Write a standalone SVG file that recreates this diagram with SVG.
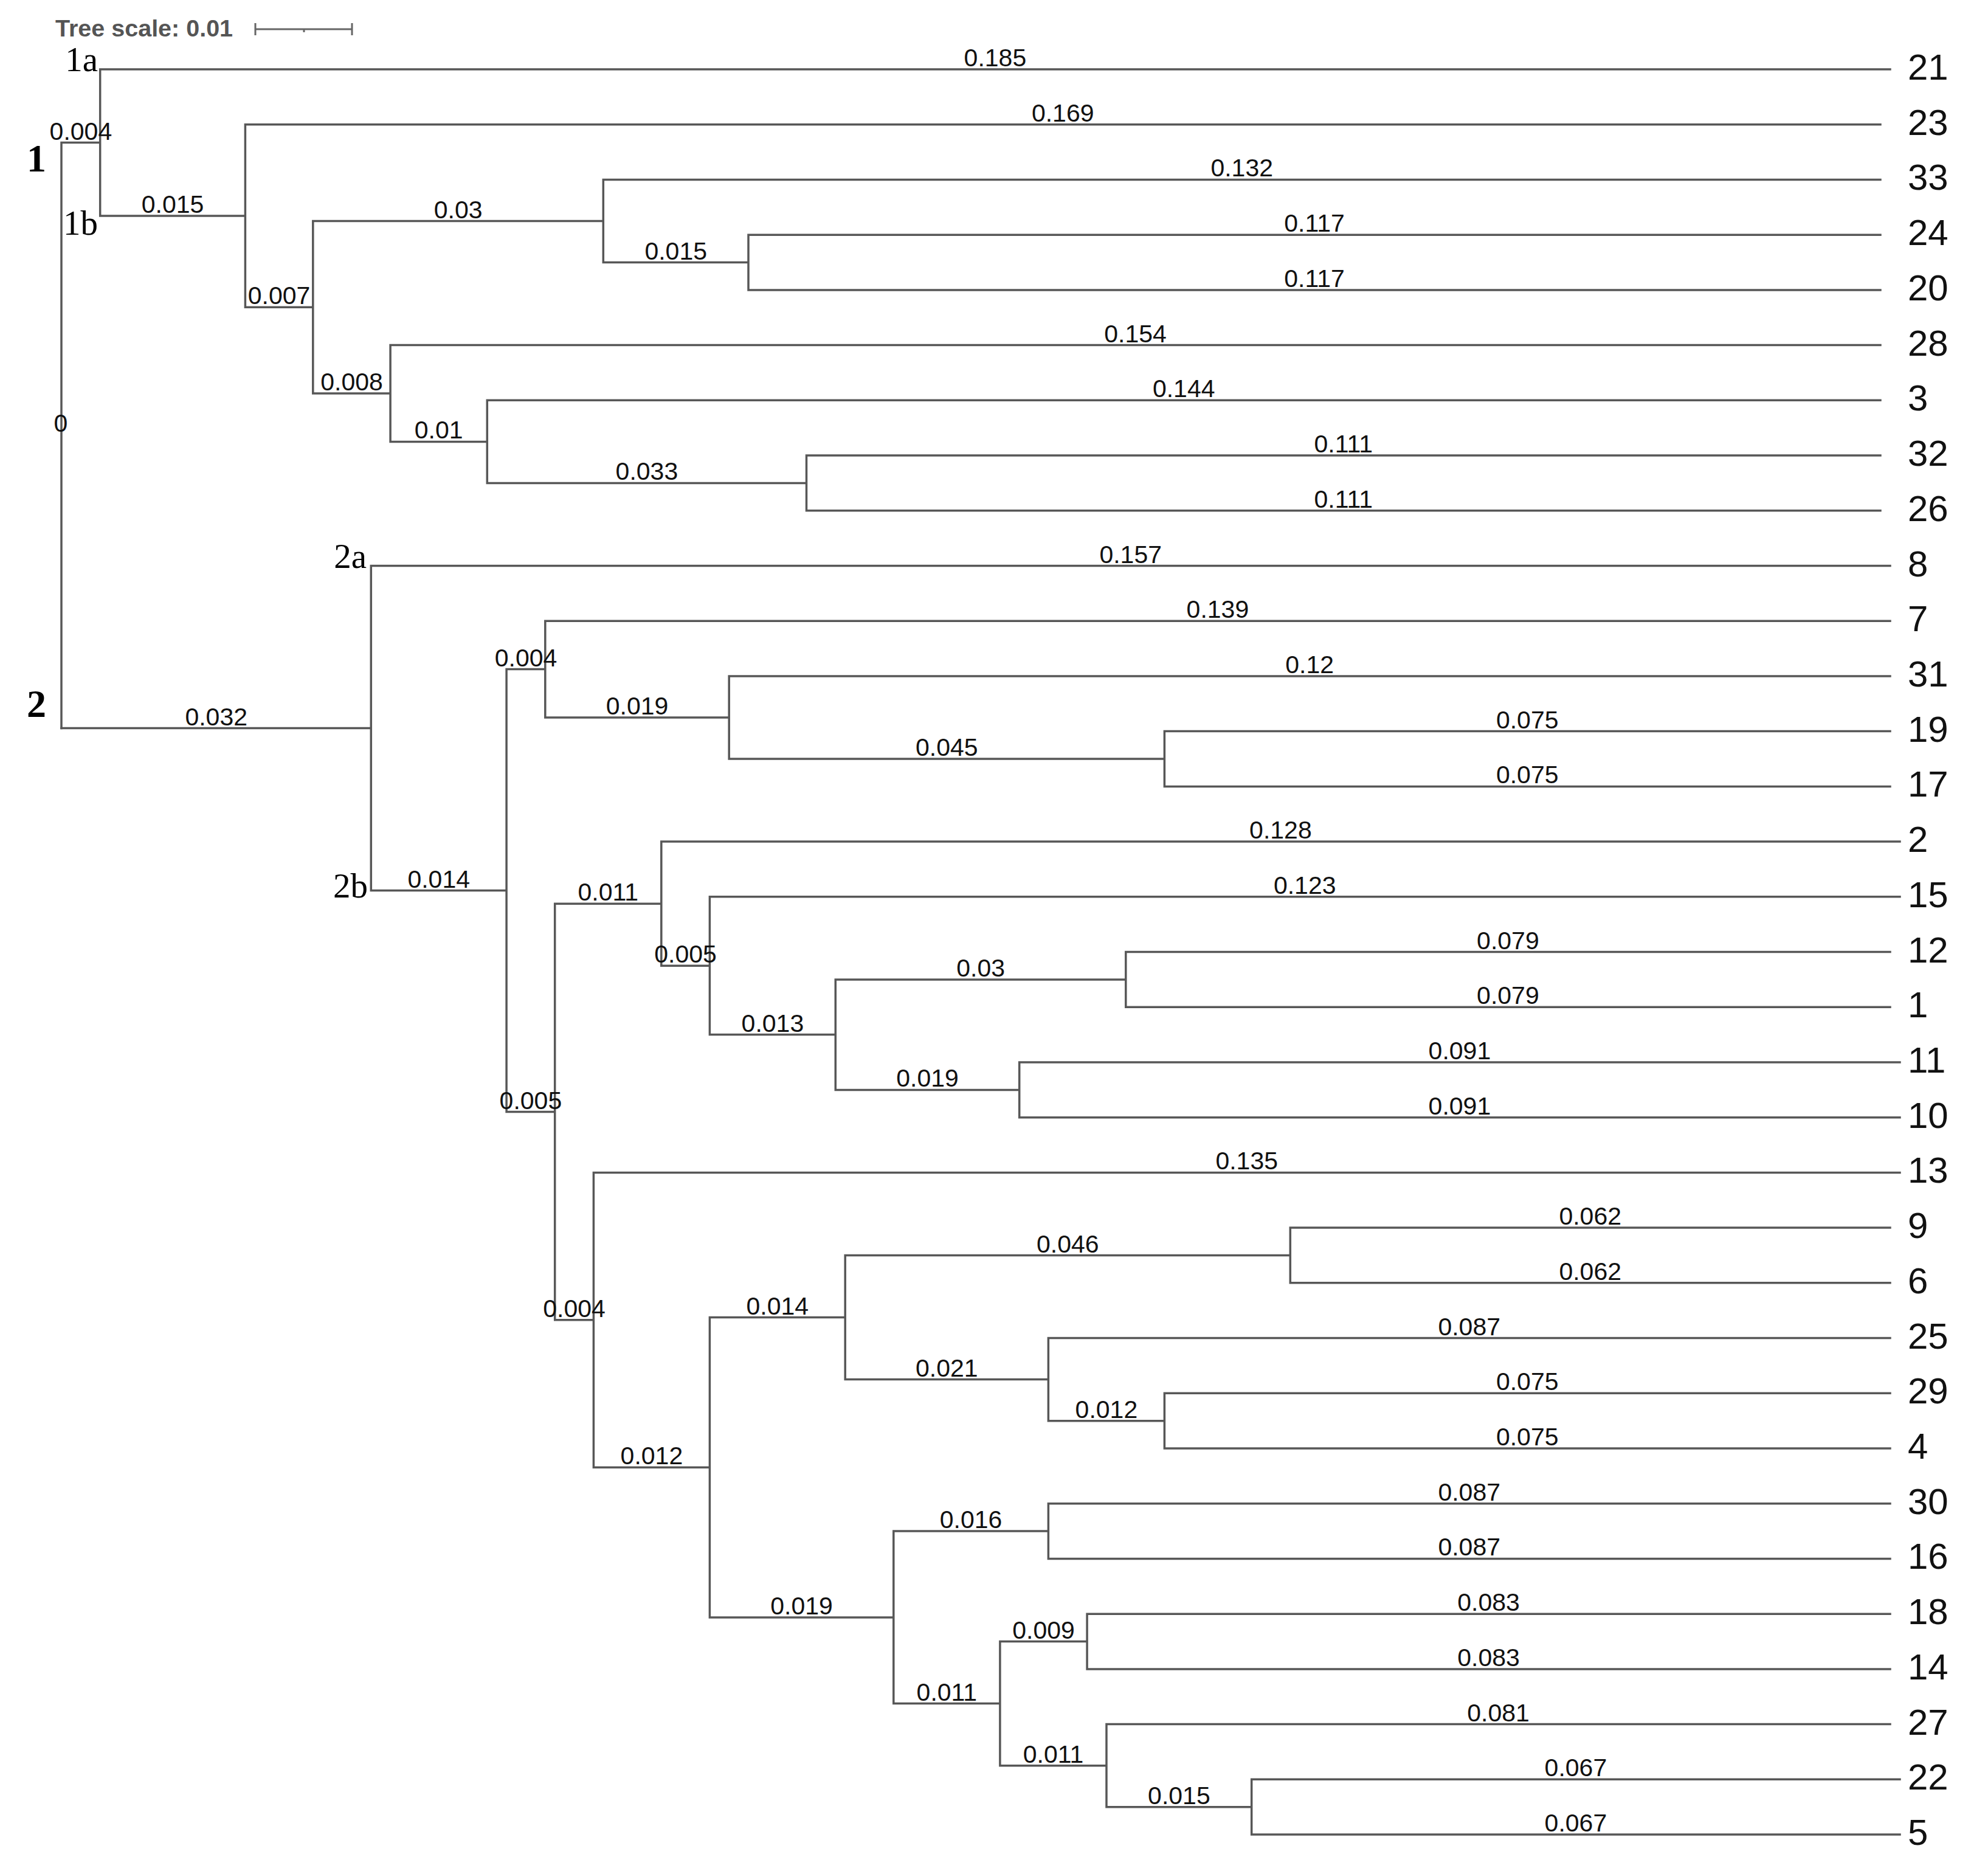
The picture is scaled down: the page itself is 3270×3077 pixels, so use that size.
<svg xmlns="http://www.w3.org/2000/svg" width="3270" height="3077" viewBox="0 0 3270 3077">
<style>
.br{fill:none;stroke:#575757;stroke-width:3.5;stroke-linecap:square}
.bl{font-family:"Liberation Sans",Arial,sans-serif;font-size:41px;fill:#111;text-anchor:middle}
.tip{font-family:"Liberation Sans",Arial,sans-serif;font-size:60px;fill:#111}
.cl{font-family:"Liberation Serif","Times New Roman",serif;font-size:57px;fill:#000;text-anchor:end}
.big{font-family:"Liberation Serif","Times New Roman",serif;font-size:64px;font-weight:bold;fill:#000}
.sc{font-family:"Liberation Sans",Arial,sans-serif;font-size:39.5px;font-weight:bold;fill:#555}
.sb{fill:none;stroke:#666;stroke-width:3}
</style>
<rect width="3270" height="3077" fill="#fff"/>
<g id="tree-scale">
<text class="sc" x="91" y="60">Tree scale: 0.01</text>
<path class="sb" d="M420 48H579M420 38V58M579 38V58M500 48V53"/>
</g>
<g id="connectors">
<path class="br" d="M101 234.5V1197.5
M101 234.5H164.7M164.7 114V355M164.7 114H3109M164.7 355H403.4
M403.4 204.7V505.2M403.4 204.7H3093M403.4 505.2H514.8
M514.8 363.5V647M514.8 363.5H992.3M992.3 295.4V431.6M992.3 295.4H3093M992.3 431.6H1231
M1231 386.2V476.9M1231 386.2H3093M1231 476.9H3093
M514.8 647H642.1M642.1 567.6V726.4M642.1 567.6H3093M642.1 726.4H801.3
M801.3 658.3V794.4M801.3 658.3H3093M801.3 794.4H1326.5
M1326.5 749V839.8M1326.5 749H3093M1326.5 839.8H3093"/>
<path class="br" d="M101 1197.5H610.3M610.3 930.5V1464.6M610.3 930.5H3109M610.3 1464.6H833.1
M833.1 1100.6V1828.5M833.1 1100.6H896.8M896.8 1021.2V1180M896.8 1021.2H3109M896.8 1180H1199.2
M1199.2 1111.9V1248M1199.2 1111.9H3109M1199.2 1248H1915.4M1915.4 1202.6V1293.4M1915.4 1202.6H3109M1915.4 1293.4H3109
M833.1 1828.5H912.7M912.7 1486.2V2170.8M912.7 1486.2H1087.8
M1087.8 1384.1V1588.2M1087.8 1384.1H3125M1087.8 1588.2H1167.4
M1167.4 1474.8V1701.6M1167.4 1474.8H3125M1167.4 1701.6H1374.3
M1374.3 1610.9V1792.4M1374.3 1610.9H1851.8M1851.8 1565.5V1656.2M1851.8 1565.5H3109M1851.8 1656.2H3109
M1374.3 1792.4H1676.7M1676.7 1747V1837.7M1676.7 1747H3125M1676.7 1837.7H3125
M912.7 2170.8H976.4M976.4 1928.4V2413.2M976.4 1928.4H3125M976.4 2413.2H1167.4
M1167.4 2166.6V2659.9M1167.4 2166.6H1390.2M1390.2 2064.5V2268.6M1390.2 2064.5H2122.3
M2122.3 2019.1V2109.8M2122.3 2019.1H3109M2122.3 2109.8H3109
M1390.2 2268.6H1724.4M1724.4 2200.6V2336.7M1724.4 2200.6H3109M1724.4 2336.7H1915.4
M1915.4 2291.3V2382M1915.4 2291.3H3109M1915.4 2382H3109
M1167.4 2659.9H1469.8M1469.8 2518.1V2801.6M1469.8 2518.1H1724.4M1724.4 2472.7V2563.4M1724.4 2472.7H3109M1724.4 2563.4H3109
M1469.8 2801.6H1644.9M1644.9 2699.5V2903.7M1644.9 2699.5H1788.1M1788.1 2654.2V2744.9M1788.1 2654.2H3109M1788.1 2744.9H3109
M1644.9 2903.7H1820M1820 2835.6V2971.7M1820 2835.6H3109M1820 2971.7H2058.7
M2058.7 2926.3V3017M2058.7 2926.3H3125M2058.7 3017H3125"/>
</g>
<g id="branch-lengths">
<text class="bl" x="100" y="710">0</text>
<text class="bl" x="132.9" y="229.5">0.004</text>
<text class="bl" x="1636.9" y="109">0.185</text>
<text class="bl" x="284.1" y="350">0.015</text>
<text class="bl" x="1748.2" y="199.7">0.169</text>
<text class="bl" x="459.1" y="500.2">0.007</text>
<text class="bl" x="753.6" y="358.5">0.03</text>
<text class="bl" x="2042.7" y="290.4">0.132</text>
<text class="bl" x="1111.7" y="426.6">0.015</text>
<text class="bl" x="2162" y="381.2">0.117</text>
<text class="bl" x="2162" y="471.9">0.117</text>
<text class="bl" x="578.5" y="642">0.008</text>
<text class="bl" x="1867.6" y="562.6">0.154</text>
<text class="bl" x="721.7" y="721.4">0.01</text>
<text class="bl" x="1947.2" y="653.3">0.144</text>
<text class="bl" x="1063.9" y="789.4">0.033</text>
<text class="bl" x="2209.8" y="744">0.111</text>
<text class="bl" x="2209.8" y="834.8">0.111</text>
<text class="bl" x="355.7" y="1192.5">0.032</text>
<text class="bl" x="1859.7" y="925.5">0.157</text>
<text class="bl" x="721.7" y="1459.6">0.014</text>
<text class="bl" x="865" y="1095.6">0.004</text>
<text class="bl" x="2002.9" y="1016.2">0.139</text>
<text class="bl" x="1048" y="1175">0.019</text>
<text class="bl" x="2154.1" y="1106.9">0.12</text>
<text class="bl" x="1557.3" y="1243">0.045</text>
<text class="bl" x="2512.2" y="1197.6">0.075</text>
<text class="bl" x="2512.2" y="1288.4">0.075</text>
<text class="bl" x="872.9" y="1823.5">0.005</text>
<text class="bl" x="1000.3" y="1481.2">0.011</text>
<text class="bl" x="2106.4" y="1379.1">0.128</text>
<text class="bl" x="1127.6" y="1583.2">0.005</text>
<text class="bl" x="2146.2" y="1469.8">0.123</text>
<text class="bl" x="1270.9" y="1696.6">0.013</text>
<text class="bl" x="1613.1" y="1605.9">0.03</text>
<text class="bl" x="2480.4" y="1560.5">0.079</text>
<text class="bl" x="2480.4" y="1651.2">0.079</text>
<text class="bl" x="1525.5" y="1787.4">0.019</text>
<text class="bl" x="2400.9" y="1742">0.091</text>
<text class="bl" x="2400.9" y="1832.7">0.091</text>
<text class="bl" x="944.6" y="2165.8">0.004</text>
<text class="bl" x="2050.7" y="1923.4">0.135</text>
<text class="bl" x="1071.9" y="2408.2">0.012</text>
<text class="bl" x="1278.8" y="2161.6">0.014</text>
<text class="bl" x="1756.3" y="2059.5">0.046</text>
<text class="bl" x="2615.7" y="2014.1">0.062</text>
<text class="bl" x="2615.7" y="2104.8">0.062</text>
<text class="bl" x="1557.3" y="2263.6">0.021</text>
<text class="bl" x="2416.7" y="2195.6">0.087</text>
<text class="bl" x="1819.9" y="2331.7">0.012</text>
<text class="bl" x="2512.2" y="2286.3">0.075</text>
<text class="bl" x="2512.2" y="2377">0.075</text>
<text class="bl" x="1318.6" y="2654.9">0.019</text>
<text class="bl" x="1597.1" y="2513.1">0.016</text>
<text class="bl" x="2416.7" y="2467.7">0.087</text>
<text class="bl" x="2416.7" y="2558.4">0.087</text>
<text class="bl" x="1557.4" y="2796.6">0.011</text>
<text class="bl" x="1716.5" y="2694.5">0.009</text>
<text class="bl" x="2448.6" y="2649.2">0.083</text>
<text class="bl" x="2448.6" y="2739.9">0.083</text>
<text class="bl" x="1732.5" y="2898.7">0.011</text>
<text class="bl" x="2464.5" y="2830.6">0.081</text>
<text class="bl" x="1939.4" y="2966.7">0.015</text>
<text class="bl" x="2591.9" y="2921.3">0.067</text>
<text class="bl" x="2591.9" y="3012">0.067</text>
</g>
<g id="clade-1"><text class="big" x="44" y="282">1</text></g>
<g id="clade-1a"><text class="cl" x="161" y="117">1a</text></g>
<g id="clade-1b"><text class="cl" x="161" y="386">1b</text></g>
<g id="clade-2"><text class="big" x="44" y="1179">2</text></g>
<g id="clade-2a"><text class="cl" x="603" y="934">2a</text></g>
<g id="clade-2b"><text class="cl" x="605" y="1476">2b</text></g>
<g id="tip-21"><text class="tip" x="3138" y="131">21</text></g>
<g id="tip-23"><text class="tip" x="3138" y="221.7">23</text></g>
<g id="tip-33"><text class="tip" x="3138" y="312.4">33</text></g>
<g id="tip-24"><text class="tip" x="3138" y="403.2">24</text></g>
<g id="tip-20"><text class="tip" x="3138" y="493.9">20</text></g>
<g id="tip-28"><text class="tip" x="3138" y="584.6">28</text></g>
<g id="tip-3"><text class="tip" x="3138" y="675.3">3</text></g>
<g id="tip-32"><text class="tip" x="3138" y="766">32</text></g>
<g id="tip-26"><text class="tip" x="3138" y="856.8">26</text></g>
<g id="tip-8"><text class="tip" x="3138" y="947.5">8</text></g>
<g id="tip-7"><text class="tip" x="3138" y="1038.2">7</text></g>
<g id="tip-31"><text class="tip" x="3138" y="1128.9">31</text></g>
<g id="tip-19"><text class="tip" x="3138" y="1219.6">19</text></g>
<g id="tip-17"><text class="tip" x="3138" y="1310.4">17</text></g>
<g id="tip-2"><text class="tip" x="3138" y="1401.1">2</text></g>
<g id="tip-15"><text class="tip" x="3138" y="1491.8">15</text></g>
<g id="tip-12"><text class="tip" x="3138" y="1582.5">12</text></g>
<g id="tip-1"><text class="tip" x="3138" y="1673.2">1</text></g>
<g id="tip-11"><text class="tip" x="3138" y="1764">11</text></g>
<g id="tip-10"><text class="tip" x="3138" y="1854.7">10</text></g>
<g id="tip-13"><text class="tip" x="3138" y="1945.4">13</text></g>
<g id="tip-9"><text class="tip" x="3138" y="2036.1">9</text></g>
<g id="tip-6"><text class="tip" x="3138" y="2126.8">6</text></g>
<g id="tip-25"><text class="tip" x="3138" y="2217.6">25</text></g>
<g id="tip-29"><text class="tip" x="3138" y="2308.3">29</text></g>
<g id="tip-4"><text class="tip" x="3138" y="2399">4</text></g>
<g id="tip-30"><text class="tip" x="3138" y="2489.7">30</text></g>
<g id="tip-16"><text class="tip" x="3138" y="2580.4">16</text></g>
<g id="tip-18"><text class="tip" x="3138" y="2671.2">18</text></g>
<g id="tip-14"><text class="tip" x="3138" y="2761.9">14</text></g>
<g id="tip-27"><text class="tip" x="3138" y="2852.6">27</text></g>
<g id="tip-22"><text class="tip" x="3138" y="2943.3">22</text></g>
<g id="tip-5"><text class="tip" x="3138" y="3034">5</text></g>
</svg>
